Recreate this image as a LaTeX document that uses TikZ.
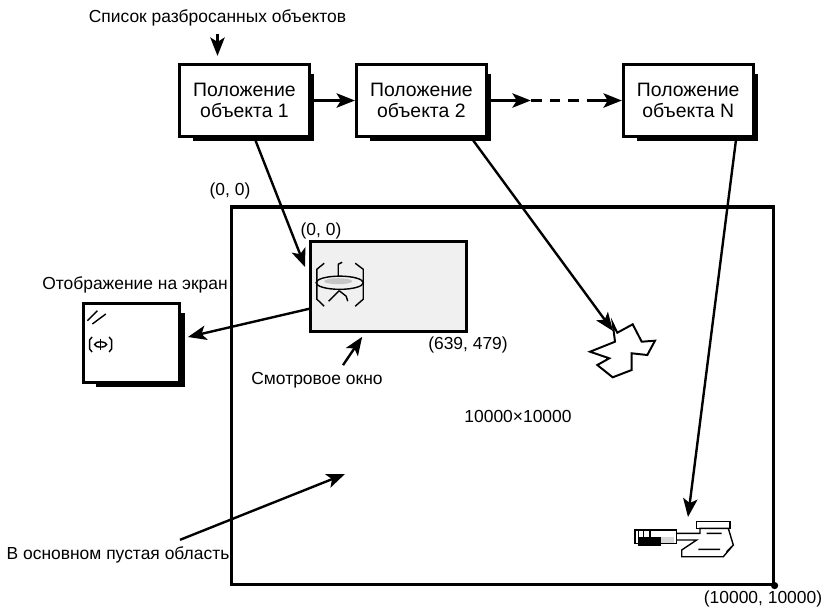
\documentclass[tikz,border=0pt]{standalone}
\usepackage{fontspec}
\setmainfont{Liberation Sans}
\usetikzlibrary{arrows.meta,positioning,calc,shadows}

\begin{document}
\begin{tikzpicture}[x=0.025cm, y=-0.025cm, >={Stealth[length=0.46cm,width=0.36cm,inset=0.11cm]},
    font=\fontsize{12.4}{15}\selectfont, node distance=1.1cm]
  \tikzstyle{objbox}=[draw, line width=2pt, fill=white, align=center, minimum width=3.25cm, minimum height=1.8cm,
    font=\fontsize{13.8}{14.4}\selectfont,
    drop shadow={shadow xshift=0.24cm, shadow yshift=-0.19cm, shadow scale=0.93, opacity=1, fill=black}]
  \tikzstyle{arr}=[->, line width=1.7pt]
  \tikzstyle{icon}=[line width=1pt, line join=miter]

  \useasboundingbox (0,0) rectangle (824,608);

  % list of object positions
  \node (list) at (217.5,18) {Список разбросанных объектов};
  \node[objbox] (obj1) at (244.5,100.5) {Положение\\объекта 1};
  \node[objbox, right=of obj1] (obj2) {Положение\\объекта 2};
  \node[objbox, right=3.35cm of obj2] (objN) {Положение\\объекта N};

  % the world, the viewport and the screen
  \node[draw, line width=2.2pt, minimum width=13.525cm, minimum height=9.425cm] (world) at (502.5,395.5) {};
  \node[draw, line width=1.8pt, fill=gray!12, minimum width=3.9cm, minimum height=2.25cm] (view) at (388.5,286.5) {};
  \node[objbox, minimum width=2.4cm, minimum height=1.98cm] (screen) at (131.5,343) {};
  \fill (world.south east) circle (0.09cm);

  \node (origin) at (230,191) {(0, 0)};
  \node (vorigin) at (321,231) {(0, 0)};
  \node (vcorner) at (468,345) {(639, 479)};
  \node (vlabel) at (317,380) {Смотровое окно};
  \node (slabel) at (135,285) {Отображение на экран};
  \node (size) at (518,416) {10000×10000};
  \node (empty) at (118,555) {В основном пустая область};
  \node[anchor=north, inner sep=1pt] (far) at (763,589) {(10000, 10000)};

  % ship inside the viewport
  \begin{scope}[shift={(view.north west)}, icon]
    \fill[gray!45] (29,41) ellipse (0.35cm and 0.075cm);
    \draw (30.5,42.5) ellipse (0.59cm and 0.165cm);
    \draw (15,23) -- (7.7,29) -- (7.7,59) -- (15,66);
    \draw (46,23) -- (54,29) -- (54,59) -- (46,66);
    \draw (29,36) -- (29,24) -- (33,22);
    \draw (19.5,61) -- (30,50.5);
    \draw (30,50.5) -- (37,56) -- (38.5,61);
  \end{scope}

  % same ship on the screen
  \begin{scope}[shift={(screen.north west)}, icon]
    \draw (5.3,18.7) -- (15.3,8.7);
    \draw (10.3,22) -- (23.7,12);
    \draw (10,35) -- (7.5,38) -- (7.5,47) -- (10,50);
    \draw (27,35) -- (29.5,38) -- (29.5,47) -- (27,50);
    \draw (18.5,42.5) ellipse (0.15cm and 0.065cm);
    \draw (18.5,37) -- (18.5,48);
  \end{scope}

  % scattered objects
  \coordinate (debris) at (613,331);
  \coordinate (craft) at (688,517);
  \coordinate (hollow) at (345,474);
  \draw[icon, line width=1.4pt] (612.7,323.3) -- (617.3,332.7) -- (632.7,324.3) -- (641.7,341.7) -- (655,340.7)
    -- (647.3,355) -- (631.7,353.3) -- (631.7,370) -- (612.7,377.3) -- (597.3,365) -- (609.3,358.3)
    -- (590,351.7) -- (615,341.7) -- cycle;

  \fill[gray!30] (661,536.7) rectangle (674,543);
  \fill (638,536.5) rectangle (661,545.5);
  \draw[icon] (635,530) rectangle (676.7,543.5);
  \draw[icon] (638.3,530) -- (638.3,537) (643.3,530) -- (643.3,537) (650,530) -- (650,537);
  \draw[icon] (696.7,521.7) rectangle (730,528.3);
  \draw[icon] (676.7,533.3) -- (700,533.3) -- (700,528.3) -- (728.3,528.3) -- (733.3,545) -- (723.3,556.7)
    -- (681.7,556.7) -- (681.7,550) -- (696.7,540) -- (676.7,540);
  \draw[icon] (706.7,533.3) -- (721.7,533.3) (698.3,549.3) -- (720,549.3) (726.7,551.7) -- (731.7,546.7);

  % links
  \coordinate (d1) at ($(obj2.east)+(43,0)$);
  \coordinate (d2) at ($(objN.west)+(-32,0)$);
  \draw[arr, shorten <=2pt, shorten >=0.18cm] (list.south) -- (list.south |- obj1.north);
  \draw[arr] (obj1) -- (obj2);
  \draw[arr] (obj2) -- (d1);
  \draw[line width=1.7pt, dash pattern=on 0.27cm off 0.2cm] (d1) -- (d2);
  \draw[arr] (d2) -- (objN);

  \draw[arr] ($(obj1.south)+(10,0)$) -- ($(view.north west)+(-4,27)$);
  \draw[arr] ($(obj2.south)+(50,0)$) -- (debris);
  \draw[arr] ($(objN.south)+(48,0)$) -- (craft);
  \draw[arr] ($(view.south west)+(0,-24)$) -- ($(screen.east)+(7,-6)$);
  \draw[arr] ($(vlabel.north)+(26,-2)$) -- ($(view.south west)+(53,4)$);
  \draw[arr] ($(empty.north)+(62,-2)$) -- (hollow);
\end{tikzpicture}
\end{document}
